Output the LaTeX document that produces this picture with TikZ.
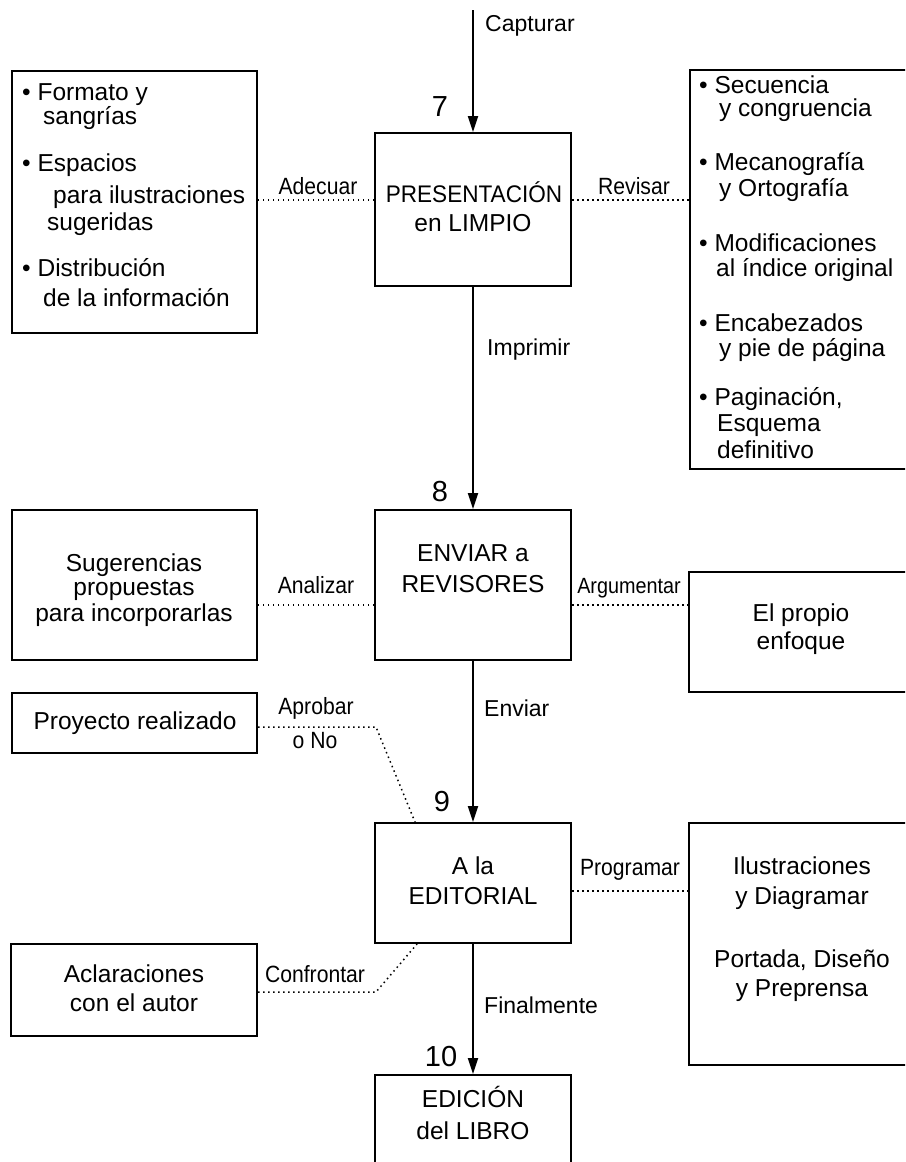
\documentclass[tikz,border=0pt]{standalone}
\usepackage{fontspec}
\setmainfont{Liberation Sans}
\newfontfamily\narrowfont[FakeStretch=0.9]{Liberation Sans}
\newfontfamily\cnarrowfont[FakeStretch=0.94]{Liberation Sans}
\usetikzlibrary{arrows.meta}
\begin{document}
\begin{tikzpicture}[x=1pt,y=-1pt,
  box/.style={draw, line width=2pt, rectangle, inner sep=0pt},
  flow/.style={line width=1.8pt, -{Triangle[length=16pt,width=10pt]}},
  dotline/.style={line width=1.5pt, dash pattern=on 1.5pt off 3.5pt},
  txt/.style={inner sep=0pt, font=\fontsize{24.5}{29}\selectfont},
  ltxt/.style={txt, anchor=mid west},
  ctxt/.style={txt, anchor=mid},
  lab/.style={inner sep=0pt, anchor=mid, font=\narrowfont\fontsize{23.5}{29}\selectfont},
  slab/.style={inner sep=0pt, anchor=mid, font=\narrowfont\fontsize{22}{29}\selectfont},
  clab/.style={inner sep=0pt, anchor=mid west, font=\fontsize{23}{27}\selectfont},
  num/.style={inner sep=0pt, anchor=center, font=\fontsize{29}{32}\selectfont}]
\clip (0,0) rectangle (905,1162);
\fill[white] (0,0) rectangle (905,1162);

% boxes
\node[box, minimum width=245pt, minimum height=262pt] (l1) at (134.5,202) {};
\node[box, minimum width=196pt, minimum height=153pt] (c1) at (473,209.5) {};
\node[box, minimum width=240pt, minimum height=399pt] (r1) at (810,269.5) {};
\node[box, minimum width=245pt, minimum height=150pt] (l2) at (134.5,585) {};
\node[box, minimum width=196pt, minimum height=150pt] (c2) at (473,585) {};
\node[box, minimum width=241pt, minimum height=120pt] (r2) at (809.5,632) {};
\node[box, minimum width=245pt, minimum height=60pt] (p) at (134.5,723) {};
\node[box, minimum width=196pt, minimum height=120pt] (c3) at (473,883) {};
\node[box, minimum width=241pt, minimum height=242pt] (r3) at (809.5,944) {};
\node[box, minimum width=246pt, minimum height=92pt] (a) at (134,990) {};
\node[box, minimum width=196pt, minimum height=125pt] (c4) at (473,1137.5) {};

% left box 1 text
\node[ltxt] (l1a) at (22,98) {• Formato y};
\node[ltxt] (l1b) at (43,122) {sangrías};
\node[ltxt] (l1c) at (22,169) {• Espacios};
\node[ltxt] (l1d) at (53,201) {para ilustraciones};
\node[ltxt] (l1e) at (47,228) {sugeridas};
\node[ltxt] (l1f) at (22,274) {• Distribución};
\node[ltxt] (l1g) at (43,304) {de la información};

% right box 1 text
\node[ltxt] (r1a) at (699,91) {• Secuencia};
\node[ltxt] (r1b) at (719,114) {y congruencia};
\node[ltxt] (r1c) at (699,168) {• Mecanografía};
\node[ltxt] (r1d) at (719,194) {y Ortografía};
\node[ltxt] (r1e) at (699,249) {• Modificaciones};
\node[ltxt] (r1f) at (716,274) {al índice original};
\node[ltxt] (r1g) at (699,329) {• Encabezados};
\node[ltxt] (r1h) at (719,354) {y pie de página};
\node[ltxt] (r1i) at (699,403) {• Paginación,};
\node[ltxt] (r1j) at (717,429) {Esquema};
\node[ltxt] (r1k) at (717,456) {definitivo};

% central texts
\node[ctxt, font=\cnarrowfont\fontsize{24}{29}\selectfont] (c1a) at (474,200) {PRESENTACIÓN};
\node[ctxt] (c1b) at (473,229) {en LIMPIO};
\node[ctxt] (c2a) at (473,559) {ENVIAR a};
\node[ctxt] (c2b) at (473,590) {REVISORES};
\node[ctxt] (c3a) at (473,872) {A la};
\node[ctxt] (c3b) at (473,902) {EDITORIAL};
\node[ctxt] (c4a) at (473,1105) {EDICIÓN};
\node[ctxt] (c4b) at (473,1137) {del LIBRO};

% other box texts
\node[ctxt] (l2a) at (134,569) {Sugerencias};
\node[ctxt] (l2b) at (134,593) {propuestas};
\node[ctxt] (l2c) at (134,619) {para incorporarlas};
\node[ctxt] (r2a) at (801,619) {El propio};
\node[ctxt] (r2b) at (801,647) {enfoque};
\node[ctxt] (pa) at (135,727) {Proyecto realizado};
\node[ctxt] (r3a) at (802,872) {Ilustraciones};
\node[ctxt] (r3b) at (802,902) {y Diagramar};
\node[ctxt] (r3c) at (802,965) {Portada, Diseño};
\node[ctxt] (r3d) at (802,994) {y Preprensa};
\node[ctxt] (aa) at (134,980) {Aclaraciones};
\node[ctxt] (ab) at (134,1009) {con el autor};

% numbers
\node[num] (n7) at (440,107) {7};
\node[num] (n8) at (440,492) {8};
\node[num] (n9) at (442,802) {9};
\node[num] (n10) at (441,1057) {10};

% main flow
\coordinate (cap) at (473,10);
\draw[flow] (cap) -- (c1.north);
\draw[flow] (c1.south) -- (c2.north);
\draw[flow] (c2.south) -- (c3.north);
\draw[flow] (c3.south) -- (c4.north);

\node[clab] (lcap) at (485,29) {Capturar};
\node[clab] (limp) at (487,353) {Imprimir};
\node[clab] (lenv) at (484,714) {Enviar};
\node[clab] (lfin) at (484,1011) {Finalmente};

% dotted connectors
\draw[dotline] ([yshift=9.5pt]c1.west) -- ([yshift=9.5pt]c1.west -| l1.east);
\draw[dotline] ([yshift=9.5pt]c1.east) -- ([yshift=9.5pt]c1.east -| r1.west);
\draw[dotline] ([yshift=-20pt]c2.west) -- ([yshift=-20pt]c2.west -| l2.east);
\draw[dotline] ([yshift=-20pt]c2.east) -- ([yshift=-20pt]c2.east -| r2.west);
\draw[dotline] ([yshift=-8pt]c3.east) -- ([yshift=-8pt]c3.east -| r3.west);
\draw[dotline] ([yshift=-4pt]p.east) -- ++(118,0) -- ([xshift=-58pt]c3.north);
\draw[dotline] ([yshift=-2pt]a.east) -- ++(118,0) -- ([xshift=-56pt]c3.south);

\node[lab] (ladec) at (318,192) {Adecuar};
\node[lab] (lrev) at (634,192) {Revisar};
\node[lab] (lana) at (316,591) {Analizar};
\node[slab] (larg) at (629,591) {Argumentar};
\node[lab] (lapr) at (316,712) {Aprobar};
\node[lab] (lapn) at (315,746) {o No};
\node[lab] (lprog) at (630,873) {Programar};
\node[lab] (lconf) at (315,980) {Confrontar};
\end{tikzpicture}
\end{document}
